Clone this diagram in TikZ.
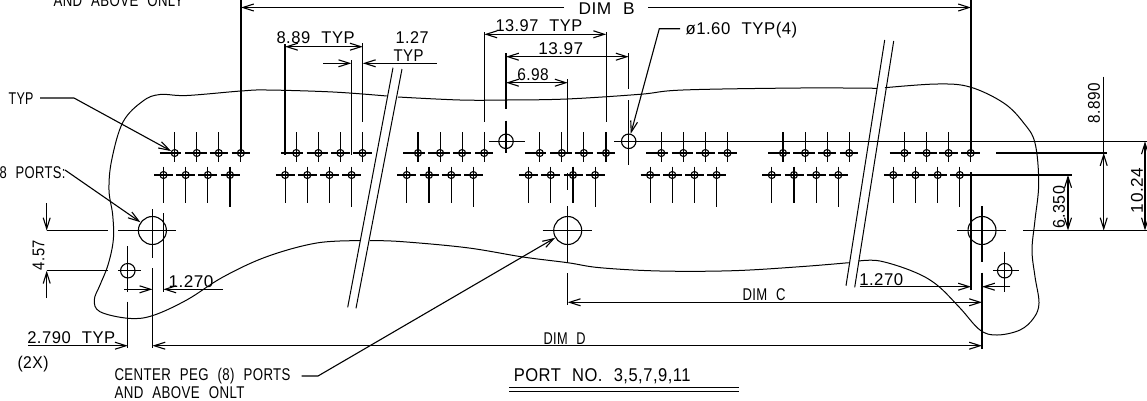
\documentclass[tikz,border=0pt]{standalone}
\usepackage{fontspec}
\setmainfont[LetterSpace=3,WordSpace=2.2]{Liberation Sans}
\usetikzlibrary{arrows.meta}
\newcommand{\fitw}[2]{\resizebox{#1pt}{\height}{#2}}

\begin{document}
\begin{tikzpicture}[
    x=1pt,y=-1pt,
    line width=1.1pt,
    mylabel/.style={inner sep=0pt,anchor=base west,font=\fontsize{17}{19}\selectfont},
    myrotlabel/.style={inner sep=0pt,rotate=90,font=\fontsize{17}{19}\selectfont},
    myhole/.style={circle,draw=black,inner sep=0pt,minimum size=7pt},
    mypeg/.style={circle,draw=black,inner sep=0pt,minimum size=28pt},
    mysmallpeg/.style={circle,draw=black,inner sep=0pt,minimum size=14.5pt},
    myarrow/.style={-{Straight Barb[length=11pt,width=7pt]}},
    myarrows/.style={{Straight Barb[length=11pt,width=7pt]}-{Straight Barb[length=11pt,width=7pt]}},
    mybreak/.style={line width=1pt},
    myoutline/.style={line width=1pt,smooth,tension=0.6}
    ]
    \useasboundingbox (0,0) rectangle (1147,400);

    % connector rows
    \foreach \gstart [count=\g] in {174.7,296.3,418,539.8,661.3,783,904.5}{
        \foreach \dx/\dl/\dr [count=\h] in {0/15/6.5,22.1/11.7/10,44.1/9.3/9.3,66.2/9.3/9}{
            \pgfmathsetmacro{\hx}{\gstart+\dx}
            \node[myhole] (t\g\h) at (\hx,153) {};
            \draw (\hx,132) -- (\hx,161.5);
            \draw (\hx-\dl,153) -- (\hx+\dr,153);
        }
        \foreach \dx [count=\h] in {0,22.2,44.4,66.5}{
            \pgfmathsetmacro{\hx}{\gstart-11.2+\dx}
            \node[myhole] (b\g\h) at (\hx,175) {};
            \draw (\hx-9.5,175) -- (\hx+9.5,175);
            \pgfmathsetmacro{\hend}{\h==4 ? 207 : 203}
            \draw (\hx,166.5) -- (\hx,\hend);
        }
    }

    % board outline
    \draw[myoutline] plot coordinates {(386.7,96) (333,92) (267,90) (241,91) (186.7,95.5) (160,94.5) (143,101) (123,122) (111.7,160) (109,190) (112.7,215) (113.3,240) (108,265) (100,285) (94.3,300) (100,311.7) (128.3,318.3) (152.3,315.7) (186.7,300) (223,277) (266.7,256.7) (316.7,243) (360,240.7)};
    \draw[myoutline] plot coordinates {(370,240.7) (400,241.5) (466.7,247.7) (523,257) (567.7,262.7) (600,267.7) (660,271) (733,270.7) (800,266.7) (848.7,262.7)};
    \draw[myoutline] plot coordinates {(858.7,261) (880,261) (913.7,271.7) (937,285) (960,308) (980,330) (997,335) (1020,330) (1033.7,318) (1039,303) (1035,276.7) (1032,250) (1035,220) (1038.7,183) (1035,143) (1023.7,123) (1003.7,103) (970,87) (937,84) (885,87.7)};
    \draw[myoutline] plot coordinates {(877,88.3) (800,88) (683,90) (640,94.3) (566.7,99) (506.7,100) (460,100) (398,97)};

    % break lines
    \draw[mybreak] (393,67.7) -- (347.7,307.3);
    \draw[mybreak] (402,69) -- (356,308.3);
    \draw[mybreak] (884.7,40) -- (846,285.7);
    \draw[mybreak] (893.7,41) -- (854.7,287.3);

    % pegs and guide holes
    \node[mypeg] (p1) at (152.4,230.5) {};
    \node[mypeg] (p2) at (567.7,230.5) {};
    \node[mypeg] (p3) at (982,230.5) {};
    \node[mysmallpeg] (s1) at (127.8,270.7) {};
    \node[mysmallpeg] (s2) at (1004.7,270.7) {};
    \node[mysmallpeg] (s3) at (506,141.3) {};
    \node[mysmallpeg] (s4) at (628.7,141.3) {};

    \draw (46.7,230.5) -- (108,230.5);
    \draw (118,230.5) -- (175.7,230.5);
    \draw (152.4,209) -- (152.4,258);
    \draw (152.4,268) -- (152.4,348);
    \draw (163.3,213) -- (163.3,292);
    \draw (46.7,270.7) -- (108,270.7);
    \draw (118,270.7) -- (140.7,270.7);
    \draw (127.8,246) -- (127.8,292);
    \draw (127.8,301.7) -- (127.8,348);
    \draw (542.7,230.5) -- (592.3,230.5);
    \draw (567.7,206) -- (567.7,262.7);
    \draw (567.7,273) -- (567.7,305);
    \draw (567.7,173) -- (567.7,190);
    \draw (957,230.5) -- (1006,230.5);
    \draw (1023,230.5) -- (1147,230.5);
    \draw (982,206) -- (982,261.7);
    \draw (982,272.7) -- (982,349.3);
    \draw (971,172) -- (971,290);
    \draw (993,270.7) -- (1018.7,270.7);
    \draw (1004.7,251.7) -- (1004.7,291.7);
    \draw (489.3,141.3) -- (525,141.3);
    \draw (506,120.7) -- (506,153);
    \draw (614,141.3) -- (1147,141.3);
    \draw (628.7,100) -- (628.7,165);

    % extension lines
    \draw (241,0) -- (241,153);
    \draw (971,0) -- (971,153);
    \draw (285,44) -- (285,155);
    \draw (362.8,43) -- (362.8,122);
    \draw (351.3,60) -- (351.3,155);
    \draw (484.3,32) -- (484.3,121.7);
    \draw (606.2,32) -- (606.2,121.7);
    \draw (506,53) -- (506,109);
    \draw (628.7,53) -- (628.7,89);
    \draw (567.7,79) -- (567.7,152.7);
    \draw (996.3,153) -- (1107,153);
    \draw (960,175) -- (1072,175);

    % dimensions
    \coordinate (dbl) at (241,7.5);
    \coordinate (dbr) at (971,7.5);
    \coordinate (dbm1) at (564,7.5);
    \coordinate (dbm2) at (648,7.5);
    \draw[myarrow] (dbm1) -- (dbl);
    \draw[myarrow] (dbm2) -- (dbr);
    \draw[myarrows] (285,46.7) -- (362.8,46.7);
    \draw[myarrow] (323.3,63.3) -- (351.3,63.3);
    \draw[myarrow] (436.7,63.3) -- (362.8,63.3);
    \draw[myarrows] (484.3,34.3) -- (606.2,34.3);
    \draw[myarrows] (506,56.7) -- (628.7,56.7);
    \draw[myarrows] (506,82.7) -- (567.7,82.7);
    \draw[myarrow] (46.7,203) -- (46.7,230.5);
    \draw[myarrow] (46.7,298) -- (46.7,270.7);
    \draw[myarrow] (124,289.3) -- (152.4,289.3);
    \draw[myarrow] (223,289.3) -- (163.3,289.3);
    \draw[myarrow] (28,345.7) -- (127.8,345.7);
    \draw[myarrows] (152.4,345.7) -- (982,345.7);
    \draw[myarrows] (567.7,302.3) -- (982,302.3);
    \draw[myarrow] (859.7,286.7) -- (971,286.7);
    \draw[myarrow] (1010.3,286.7) -- (982,286.7);
    \draw (1103.7,76.7) -- (1103.7,153);
    \draw[myarrows] (1103.7,153) -- (1103.7,230.5);
    \draw[myarrows] (1068,175) -- (1068,230.5);
    \draw[myarrows] (1145,141.3) -- (1145,230.5);

    % leaders
    \coordinate (ltyp1) at (40,98);
    \coordinate (ltyp2) at (74,98);
    \coordinate (lcen1) at (301.7,376);
    \coordinate (lcen2) at (318,376);
    \coordinate (ldia1) at (680,28.7);
    \coordinate (ldia2) at (659.3,28.7);
    \draw[myarrow] (ltyp1) -- (ltyp2) -- (t11);
    \draw[myarrow] (65,170) -- (p1);
    \draw[myarrow] (lcen1) -- (lcen2) -- (p2);
    \draw[myarrow] (ldia1) -- (ldia2) -- (s4);

    % labels
    \node[mylabel] (top2) at (53,6) {\fitw{130}{AND ABOVE ONLY}};
    \node[mylabel] (dimb) at (578,14) {\fitw{56}{DIM B}};
    \node[mylabel] (typ1) at (8,104) {\fitw{25}{TYP}};
    \node[mylabel] (ports) at (-1,178) {\fitw{66}{8 PORTS:}};
    \node[mylabel] (d889) at (276,43) {\fitw{78}{8.89 TYP}};
    \node[mylabel] (d127) at (395,43.3) {\fitw{33}{1.27}};
    \node[mylabel] (t127) at (393,61) {\fitw{30}{TYP}};
    \node[mylabel] (d1397t) at (495,31.7) {\fitw{86.7}{13.97 TYP}};
    \node[mylabel] (d1397) at (537.7,54) {\fitw{45}{13.97}};
    \node[mylabel] (d698) at (516.7,80) {\fitw{31.5}{6.98}};
    \node[mylabel] (dia) at (685,34.3) {\fitw{111.7}{ø1.60 TYP(4)}};
    \node[mylabel] (d1270l) at (168,287.5) {\fitw{45}{1.270}};
    \node[mylabel] (d1270r) at (858.7,285) {\fitw{44}{1.270}};
    \node[mylabel] (d2790) at (26.7,343) {\fitw{88}{2.790 TYP}};
    \node[mylabel] (x2) at (17,368.5) {\fitw{31}{(2X)}};
    \node[mylabel] (dimc) at (742,300) {\fitw{43}{DIM C}};
    \node[mylabel] (dimd) at (543,344) {\fitw{42}{DIM D}};
    \node[mylabel] (cen1) at (114,380) {\fitw{176}{CENTER PEG (8) PORTS}};
    \node[mylabel] (cen2) at (114,398) {\fitw{130}{AND ABOVE ONLT}};
    \node[mylabel,font=\fontsize{18.5}{20}\selectfont] (port) at (513.3,381.7) {\fitw{176.7}{PORT NO. 3,5,7,9,11}};
    \draw (509,387.3) -- (739,387.3);
    \draw (509,391.7) -- (739,391.7);
    \node[myrotlabel] (d457) at (38.5,255) {\fitw{30}{4.57}};
    \node[myrotlabel] (d8890) at (1094,103) {\fitw{40}{8.890}};
    \node[myrotlabel] (d6350) at (1059,207) {\fitw{42}{6.350}};
    \node[myrotlabel] (d1024) at (1137,190.5) {\fitw{45}{10.24}};
\end{tikzpicture}
\end{document}
